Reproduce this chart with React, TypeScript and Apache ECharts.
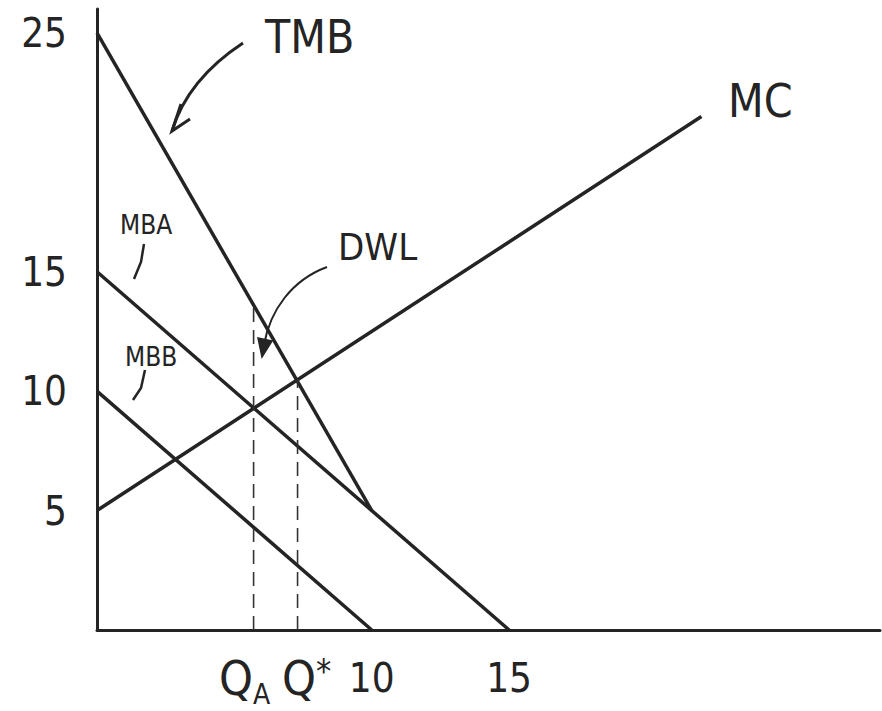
import React, { useEffect, useRef } from "react";
import * as echarts from "echarts";

// ---- data ----
const QA = 5.7;
const QSTAR = 7.3;
const xTickValues = [QA, 10, 15];
const xTickLabels = ["{q|Q}{s|A}{gapR|}", "{n|10}", "{n|15}"];
const xStarTickValues = [QSTAR];
const xStarTickLabels = ["{gapL|}{q|Q}{st|*}"];
const yTickValues = [5, 10, 15, 25];

const mcQ = [0, 22];
const mcP = [5, 21.5];
const mbaQ = [0, 15];
const mbaP = [15, 0];
const mbbQ = [0, 10];
const mbbP = [10, 0];
const tmbQ = [0, 10];
const tmbP = [25, 5];
const qaLineP = [0, 13.6];
const qStarLineP = [0, 10.5];

const FONT = "'Liberation Sans Narrow', 'DejaVu Sans Condensed', 'DejaVu Sans', sans-serif";
const INK = "#242424";

const zip = (xs: number[], ys: number[]) => xs.map((x, i) => [x, ys[i]]);

const rich = {
  q: { fontFamily: FONT, fontSize: 48, color: INK, verticalAlign: "top" },
  s: { fontFamily: FONT, fontSize: 28, color: INK, verticalAlign: "top", padding: [26, 0, 0, 0] },
  st: { fontFamily: FONT, fontSize: 34, color: INK, verticalAlign: "top" },
  n: { fontFamily: FONT, fontSize: 40, color: INK, verticalAlign: "top", padding: [4, 0, 0, 0] },
  gapR: { width: 18 },
  gapL: { width: 18 },
};

const labelFormatter = (values: number[], labels: string[]) => (v: number) => {
  const i = values.findIndex((t) => Math.abs(t - v) < 1e-6);
  return i >= 0 ? labels[i] : "";
};

export default function App() {
  const ref = useRef<HTMLDivElement>(null);
  useEffect(() => {
    if (!ref.current) return;
    const chart = echarts.init(ref.current, null, { renderer: "svg" });
    const solid = (name: string, data: number[][]) => ({
      name,
      type: "line",
      data,
      symbol: "none",
      silent: true,
      lineStyle: { color: INK, width: 3.5 },
    });
    const dashed = (name: string, data: number[][]) => ({
      name,
      type: "line",
      data,
      symbol: "none",
      silent: true,
      lineStyle: { color: "#333", width: 1.6, type: [14, 8] },
    });
    const baseX = {
      type: "value",
      min: 0,
      max: 28.5,
      position: "bottom",
      splitLine: { show: false },
      axisTick: { show: false },
    };
    chart.setOption({
      animation: false,
      backgroundColor: "#ffffff",
      grid: { left: 97, right: 2, top: 9, bottom: 81 },
      xAxis: [
        {
          ...baseX,
          axisLine: { lineStyle: { color: INK, width: 3 }, symbol: ["none", "none"] },
          axisLabel: {
            customValues: xTickValues,
            hideOverlap: false,
            margin: 24,
            color: INK,
            fontFamily: FONT,
            fontSize: 40,
            formatter: labelFormatter(xTickValues, xTickLabels),
            rich,
          },
        },
        {
          ...baseX,
          axisLine: { show: false },
          axisLabel: {
            customValues: xStarTickValues,
            hideOverlap: false,
            margin: 24,
            color: INK,
            fontFamily: FONT,
            fontSize: 40,
            formatter: labelFormatter(xStarTickValues, xStarTickLabels),
            rich,
          },
        },
      ],
      yAxis: {
        type: "value",
        min: 0,
        max: 26,
        splitLine: { show: false },
        axisTick: { show: false },
        axisLine: { lineStyle: { color: INK, width: 3 } },
        axisLabel: {
          customValues: yTickValues,
          margin: 30,
          color: INK,
          fontFamily: FONT,
          fontSize: 40,
        },
      },
      series: [
        solid("MC", zip(mcQ, mcP)),
        solid("MBA", zip(mbaQ, mbaP)),
        solid("MBB", zip(mbbQ, mbbP)),
        solid("TMB", zip(tmbQ, tmbP)),
        dashed("QA", zip([QA, QA], qaLineP)),
        dashed("Q*", zip([QSTAR, QSTAR], qStarLineP)),
      ],
      graphic: [
        { type: "text", x: 265, y: 14, style: { text: "TMB", font: `46px ${FONT}`, fill: INK, align: "left", verticalAlign: "top" } },
        { type: "text", x: 728, y: 78, style: { text: "MC", font: `46px ${FONT}`, fill: INK, align: "left", verticalAlign: "top" } },
        { type: "text", x: 338, y: 228, style: { text: "DWL", font: `38px ${FONT}`, fill: INK, align: "left", verticalAlign: "top" } },
        { type: "text", x: 120, y: 212, style: { text: "MBA", font: `26px ${FONT}`, fill: INK, align: "left", verticalAlign: "top" } },
        { type: "text", x: 125, y: 344, style: { text: "MBB", font: `26px ${FONT}`, fill: INK, align: "left", verticalAlign: "top" } },
        {
          type: "bezierCurve",
          shape: { x1: 243, y1: 43, cpx1: 205, cpy1: 68, cpx2: 182, cpy2: 98, x2: 172, y2: 131 },
          style: { stroke: INK, lineWidth: 3, fill: null },
        },
        { type: "polyline", shape: { points: [[181, 104], [172, 131], [190, 119]] }, style: { stroke: INK, lineWidth: 3, fill: null } },
        {
          type: "bezierCurve",
          shape: { x1: 327, y1: 267, cpx1: 292, cpy1: 280, cpx2: 270, cpy2: 310, x2: 264, y2: 345 },
          style: { stroke: INK, lineWidth: 2, fill: null },
        },
        { type: "polygon", shape: { points: [[258, 338], [262, 357], [272, 341]] }, style: { fill: INK, stroke: INK, lineWidth: 1.5 } },
        { type: "polyline", shape: { points: [[144, 244], [141, 262], [134, 279]] }, style: { stroke: INK, lineWidth: 2.5, fill: null } },
        { type: "polyline", shape: { points: [[145, 370], [141, 388], [133, 400]] }, style: { stroke: INK, lineWidth: 2.5, fill: null } },
      ],
    });
    return () => chart.dispose();
  }, []);
  return <div ref={ref} style={{ position: "absolute", left: 0, top: 0, width: 882, height: 711 }} />;
}
